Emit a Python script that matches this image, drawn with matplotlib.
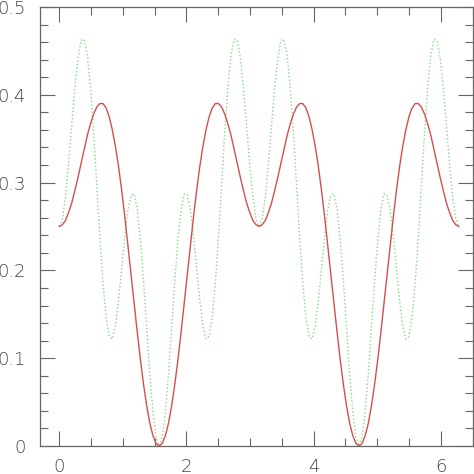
import numpy as np
import matplotlib
matplotlib.use("Agg")
import matplotlib.pyplot as plt
from matplotlib.ticker import MultipleLocator

# sample positions along x (0 .. 2*pi)
x = np.linspace(0, 2 * np.pi, 129)

# red solid curve
red = [
    .250, .252, .257, .266, .277, .291, .306, .322, .338, .354, .367, .378, .386, .390, .390, .385,
    .375, .360, .341, .318, .291, .261, .228, .195, .162, .129, .098, .070, .046, .026, .012, .003,
    .000, .003, .012, .026, .046, .070, .098, .129, .162, .195, .228, .261, .291, .318, .341, .360,
    .375, .385, .390, .390, .386, .378, .367, .354, .338, .322, .306, .291, .277, .266, .257, .252,
    .250, .252, .257, .266, .277, .291, .306, .322, .338, .354, .367, .378, .386, .390, .390, .385,
    .375, .360, .341, .318, .291, .261, .228, .195, .162, .129, .098, .070, .046, .026, .012, .003,
    .000, .003, .012, .026, .046, .070, .098, .129, .162, .195, .228, .261, .291, .318, .341, .360,
    .375, .385, .390, .390, .386, .378, .367, .354, .338, .322, .306, .291, .277, .266, .257, .252,
    .250,
]

# green dotted curve
green = [
    .250, .259, .284, .322, .365, .408, .442, .462, .463, .445, .408, .357, .298, .238, .186, .147,
    .125, .122, .137, .166, .202, .239, .269, .286, .287, .269, .234, .188, .135, .083, .039, .010,
    .000, .010, .039, .083, .135, .188, .234, .269, .287, .286, .269, .239, .202, .166, .137, .122,
    .125, .147, .186, .238, .298, .357, .408, .445, .463, .462, .442, .408, .365, .322, .284, .259,
    .250, .259, .284, .322, .365, .408, .442, .462, .463, .445, .408, .357, .298, .238, .186, .147,
    .125, .122, .137, .166, .202, .239, .269, .286, .287, .269, .234, .188, .135, .083, .039, .010,
    .000, .010, .039, .083, .135, .188, .234, .269, .287, .286, .269, .239, .202, .166, .137, .122,
    .125, .147, .186, .238, .298, .357, .408, .445, .463, .462, .442, .408, .365, .322, .284, .259,
    .250,
]

axis_col = "#666666"
text_col = "#444444"

fig = plt.figure(figsize=(4.74, 4.74), dpi=100)
ax = fig.add_axes([40 / 474, 28 / 474, 433 / 474, 439 / 474])

ax.plot(x, green, color="#86d986", lw=1.0, ls=(0, (1, 1.6)))
ax.plot(x, red, color="#d24f4f", lw=1.0)

ax.set_xlim(-0.303, 6.505)
ax.set_ylim(0, 0.5)

ax.xaxis.set_minor_locator(MultipleLocator(0.5))
ax.yaxis.set_minor_locator(MultipleLocator(0.02))
ax.set_yticks([0, 0.1, 0.2, 0.3, 0.4, 0.5])
ax.set_yticklabels(["0", "0.1", "0.2", "0.3", "0.4", "0.5"])
ax.set_xticks([0, 2, 4, 6])
ax.set_xticklabels(["0", "2", "4", "6"])

ax.tick_params(which="both", direction="in", top=True, right=True,
               color=axis_col, width=0.8, labelcolor=text_col)
ax.tick_params(which="major", length=10.5, labelsize=13)
ax.tick_params(which="minor", length=5.5)
ax.tick_params(axis="y", pad=10.3)
ax.tick_params(axis="x", pad=8.5)
for lab in ax.get_xticklabels() + ax.get_yticklabels():
    lab.set_family("DejaVu Sans")
    lab.set_fontweight("light")

for s in ax.spines.values():
    s.set_color(axis_col)
    s.set_linewidth(0.9)

fig.savefig("out.png", dpi=100)
